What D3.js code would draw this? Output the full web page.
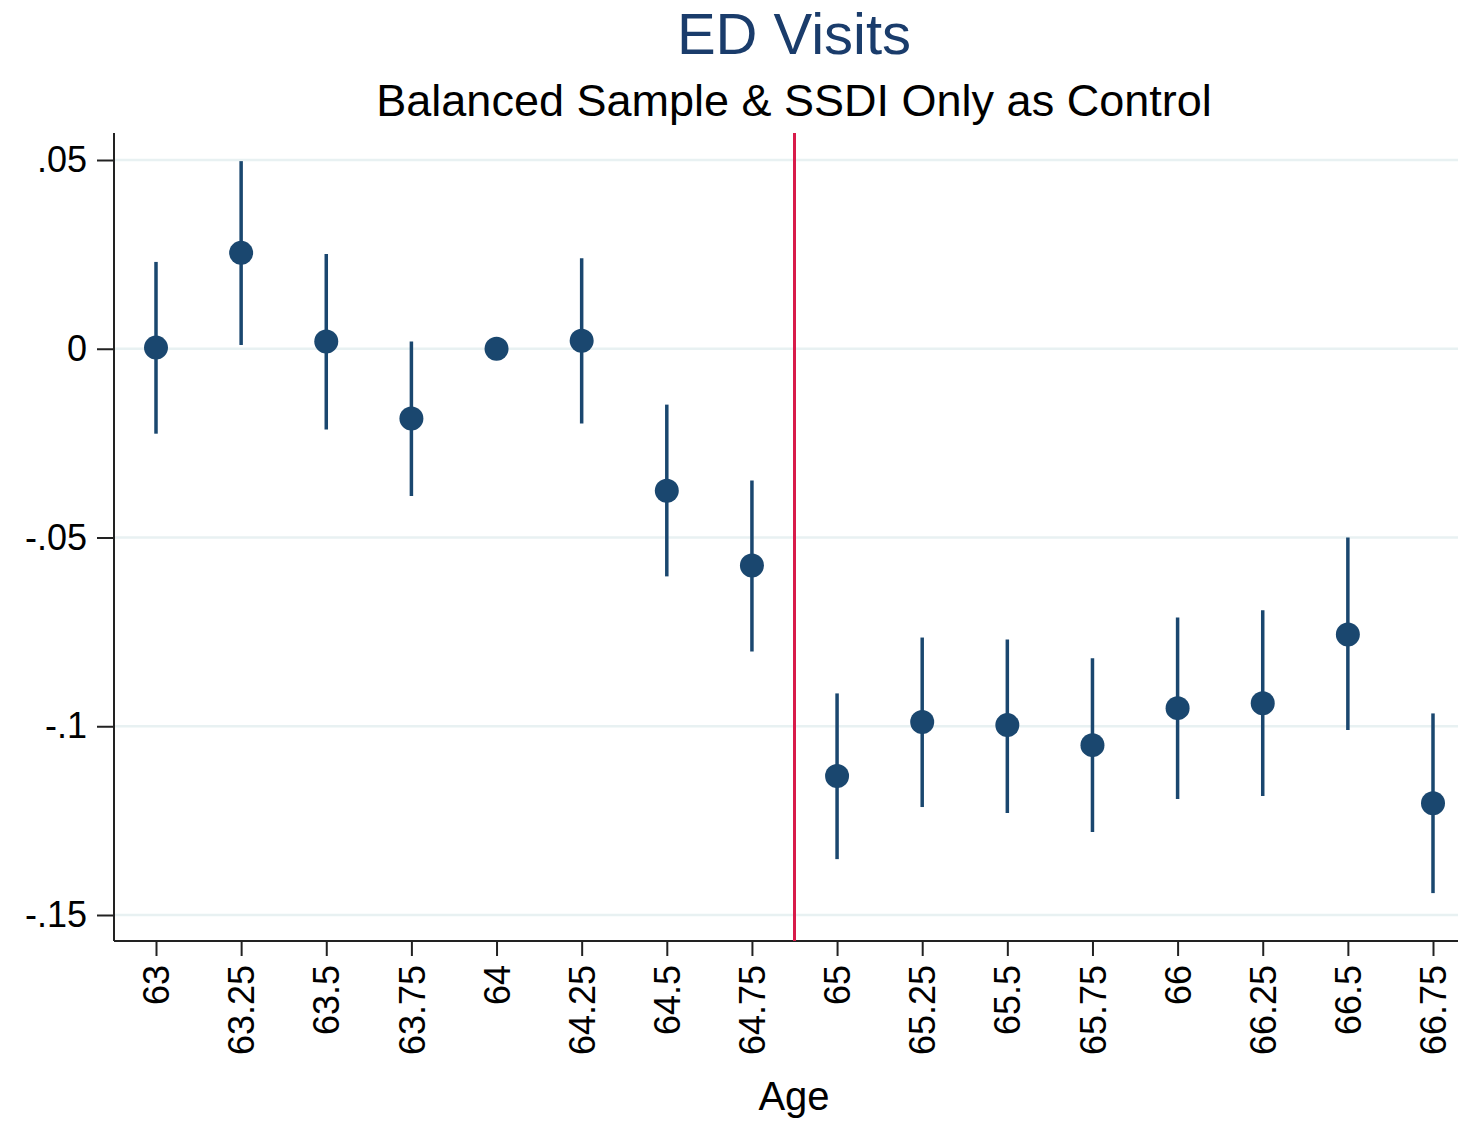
<!DOCTYPE html>
<html>
<head>
<meta charset="utf-8">
<script src="https://cdn.jsdelivr.net/npm/d3@7"></script>
<style>
  body { margin: 0; background: #fff; }
  text { font-family: "Liberation Sans", Arial, sans-serif; }
</style>
</head>
<body>
<svg id="chart" width="1458" height="1122"></svg>
<script>
// ages (quarters), point estimates and 95% CI bounds
var ages = [63, 63.25, 63.5, 63.75, 64, 64.25, 64.5, 64.75, 65, 65.25, 65.5, 65.75, 66, 66.25, 66.5, 66.75];
var estimates = [0.0003, 0.0254, 0.0019, -0.0185, 0, 0.0021, -0.0376, -0.0574, -0.1132, -0.0989, -0.0997, -0.105, -0.0952, -0.0939, -0.0757, -0.1204];
var ciLow = [-0.0225, 0.001, -0.0214, -0.039, 0, -0.0198, -0.0603, -0.0802, -0.1352, -0.1214, -0.123, -0.128, -0.1193, -0.1185, -0.101, -0.1442];
var ciHigh = [0.023, 0.0497, 0.0251, 0.0019, 0, 0.024, -0.0148, -0.0349, -0.0913, -0.0765, -0.077, -0.082, -0.0712, -0.0693, -0.05, -0.0966];
var yTicks = [0.05, 0, -0.05, -0.1, -0.15];
var yTickLabels = [".05", "0", "-.05", "-.1", "-.15"];
var cutoff = 64.875;

var svg = d3.select("#chart");
var navy = "#1a476f";

var x = d3.scaleLinear().domain([63, 66.75]).range([156, 1433]);
var y = d3.scaleLinear().domain([0.05, -0.15]).range([160, 915]);
// plot frame (note: "top" is reserved on window, so use plotTop)
var plotLeft = 114, plotBottom = 941, plotTop = 133, plotRight = 1458;

// gridlines
svg.append("g").selectAll("line").data(yTicks).join("line")
  .attr("x1", plotLeft).attr("x2", plotRight)
  .attr("y1", function (d) { return y(d); }).attr("y2", function (d) { return y(d); })
  .attr("stroke", "#e8f1f2").attr("stroke-width", 2.5);

// y axis
var yAxis = d3.axisLeft(y).tickValues(yTicks).tickSize(17).tickPadding(10)
  .tickFormat(function (d, i) { return yTickLabels[i]; });
var gy = svg.append("g").attr("transform", "translate(" + plotLeft + ",0)").call(yAxis);
gy.select(".domain").attr("d", "M0," + plotTop + "V" + plotBottom).attr("stroke", "#222").attr("stroke-width", 2);
gy.selectAll(".tick line").attr("stroke", "#222").attr("stroke-width", 2);
gy.selectAll(".tick text").attr("font-size", 36).attr("fill", "#000")
  .attr("font-family", "Liberation Sans, Arial, sans-serif");

// x axis
var xAxis = d3.axisBottom(x).tickValues(ages).tickSize(15).tickPadding(10)
  .tickFormat(function (d) { return String(d); });
var gx = svg.append("g").attr("transform", "translate(0," + plotBottom + ")").call(xAxis);
gx.select(".domain").attr("d", "M" + plotLeft + ",0H" + plotRight).attr("stroke", "#222").attr("stroke-width", 2);
gx.selectAll(".tick line").attr("stroke", "#222").attr("stroke-width", 2);
gx.selectAll(".tick text").attr("font-size", 36).attr("fill", "#000")
  .attr("font-family", "Liberation Sans, Arial, sans-serif")
  .attr("text-anchor", "end").attr("dy", "0.35em")
  .attr("transform", "translate(0,24) rotate(-90)").attr("x", 0).attr("y", 0);

// cutoff line
svg.append("line")
  .attr("x1", x(cutoff)).attr("x2", x(cutoff))
  .attr("y1", plotTop).attr("y2", plotBottom)
  .attr("stroke", "#d81b4a").attr("stroke-width", 3);

// CI bars
var idx = d3.range(ages.length);
svg.append("g").selectAll("line").data(idx.filter(function (i) { return ciHigh[i] !== ciLow[i]; })).join("line")
  .attr("x1", function (i) { return x(ages[i]); }).attr("x2", function (i) { return x(ages[i]); })
  .attr("y1", function (i) { return y(ciHigh[i]); }).attr("y2", function (i) { return y(ciLow[i]); })
  .attr("stroke", navy).attr("stroke-width", 3.5);

// points
svg.append("g").selectAll("circle").data(idx).join("circle")
  .attr("cx", function (i) { return x(ages[i]); })
  .attr("cy", function (i) { return y(estimates[i]); })
  .attr("r", 12).attr("fill", navy);

// titles
svg.append("text").attr("x", 794).attr("y", 54).attr("text-anchor", "middle")
  .attr("font-size", 58).attr("fill", "#1a3c6b").text("ED Visits");
svg.append("text").attr("x", 794).attr("y", 116).attr("text-anchor", "middle")
  .attr("font-size", 45).attr("fill", "#000").text("Balanced Sample & SSDI Only as Control");
svg.append("text").attr("x", 794).attr("y", 1110).attr("text-anchor", "middle")
  .attr("font-size", 40).attr("fill", "#000").text("Age");
</script>
</body>
</html>
